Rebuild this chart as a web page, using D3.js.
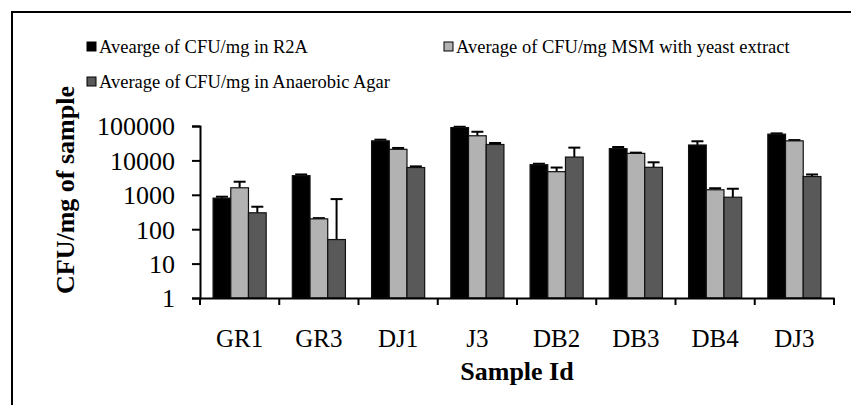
<!DOCTYPE html>
<html>
<head>
<meta charset="utf-8">
<script src="https://cdn.jsdelivr.net/npm/d3@7"></script>
<style>
  body { margin: 0; background: #fff; }
  svg text { font-family: "Liberation Serif", "Times New Roman", serif !important; fill: #000; }
</style>
</head>
<body>
<div id="chart"></div>
<script>
// data
var categories = ["GR1", "GR3", "DJ1", "J3", "DB2", "DB3", "DB4", "DJ3"];
var seriesNames = [
  "Avearge of CFU/mg in R2A",
  "Average of CFU/mg MSM with yeast extract",
  "Average of CFU/mg in Anaerobic Agar"
];
var r2a   = [800, 3600, 37000, 90000, 7500, 22000, 28000, 58000];
var msm   = [1600, 200, 21000, 52000, 4700, 16000, 1400, 37000];
var anaer = [300, 50, 6200, 29000, 12500, 6300, 850, 3400];
var r2aErr   = [80, 300, 3000, 5000, 500, 2500, 8000, 3000];
var msmErr   = [800, 10, 2000, 16000, 1500, 800, 150, 2000];
var anaerErr = [150, 700, 500, 3000, 11000, 2500, 650, 500];
var yTicks = [1, 10, 100, 1000, 10000, 100000];

var colors = ["#000000", "#b2b2b2", "#595959"];

var W = 851, H = 405;
var plotL = 200, plotR = 834, plotT = 126, plotB = 298;

var svg = d3.select("#chart").append("svg")
    .attr("width", W)
    .attr("height", H);

// outer frame (right and bottom edges sit outside the picture)
svg.append("path")
    .attr("d", "M12,420 L12,12 L860,12")
    .attr("fill", "none")
    .attr("stroke", "#000")
    .attr("stroke-width", 2);

var x0 = d3.scaleBand().domain(categories).range([plotL, plotR]);
var bw = x0.bandwidth();
var gw = bw * 0.67;
var x1 = d3.scaleBand().domain([0, 1, 2]).range([(bw - gw) / 2, (bw + gw) / 2]);
var y = d3.scaleLog().domain([1, 100000]).range([plotB, plotT]);

var series = [r2a, msm, anaer];
var errs = [r2aErr, msmErr, anaerErr];

var rows = [];
categories.forEach(function(c, i) {
  series.forEach(function(s, j) {
    rows.push({cat: c, s: j, v: s[i], e: errs[j][i]});
  });
});

function cx(d) { return x0(d.cat) + x1(d.s) + x1.bandwidth() / 2; }

var g = svg.append("g");

// error bars (upper only) drawn behind bars
var eb = g.selectAll("g.err").data(rows).enter().append("g").attr("class", "err");
eb.append("line")
    .attr("x1", cx).attr("x2", cx)
    .attr("y1", function(d) { return y(d.v); })
    .attr("y2", function(d) { return y(d.v + d.e); })
    .attr("stroke", "#000").attr("stroke-width", 2);
eb.append("line")
    .attr("x1", function(d) { return cx(d) - 6; })
    .attr("x2", function(d) { return cx(d) + 6; })
    .attr("y1", function(d) { return y(d.v + d.e); })
    .attr("y2", function(d) { return y(d.v + d.e); })
    .attr("stroke", "#000").attr("stroke-width", 2);

g.selectAll("rect.bar").data(rows).enter().append("rect")
    .attr("class", "bar")
    .attr("x", function(d) { return x0(d.cat) + x1(d.s); })
    .attr("width", x1.bandwidth())
    .attr("y", function(d) { return y(d.v); })
    .attr("height", function(d) { return plotB - y(d.v); })
    .attr("fill", function(d) { return colors[d.s]; })
    .attr("stroke", "#111")
    .attr("stroke-width", 1.2);

// y axis
var yAxis = svg.append("g")
    .attr("transform", "translate(" + plotL + ",0)")
    .call(d3.axisLeft(y).tickValues(yTicks).tickFormat(d3.format("d")).tickSize(8).tickPadding(17));
yAxis.attr("font-family", null);
yAxis.select(".domain").attr("stroke-width", 2);
yAxis.selectAll(".tick line").attr("stroke-width", 2);
yAxis.selectAll("text").style("font-size", "26px").attr("dy", "0.34em");

// x axis
var xAxis = svg.append("g")
    .attr("transform", "translate(0," + plotB + ")")
    .call(d3.axisBottom(x0).tickSize(0).tickPadding(31));
xAxis.attr("font-family", null);
xAxis.select(".domain").attr("stroke-width", 2);
xAxis.selectAll("text").style("font-size", "25px");
xAxis.selectAll("line.sep")
    .data(d3.range(categories.length + 1))
    .enter().append("line")
    .attr("class", "sep")
    .attr("x1", function(i) { return plotL + i * bw; })
    .attr("x2", function(i) { return plotL + i * bw; })
    .attr("y1", 0).attr("y2", 7)
    .attr("stroke", "#000").attr("stroke-width", 2);

// axis titles
svg.append("text")
    .attr("x", (plotL + plotR) / 2)
    .attr("y", 380)
    .attr("text-anchor", "middle")
    .style("font-size", "26px")
    .style("font-weight", "bold")
    .text("Sample Id");

svg.append("text")
    .attr("transform", "translate(74,190) rotate(-90)")
    .attr("text-anchor", "middle")
    .style("font-size", "26px")
    .style("font-weight", "bold")
    .text("CFU/mg of sample");

// legend
var legendPos = [[87, 47], [444, 47], [87, 82]];
var lg = svg.selectAll("g.legend").data(seriesNames).enter().append("g")
    .attr("class", "legend")
    .attr("transform", function(d, i) { return "translate(" + legendPos[i][0] + "," + legendPos[i][1] + ")"; });
lg.append("rect")
    .attr("x", 0).attr("y", -5)
    .attr("width", 9).attr("height", 9)
    .attr("fill", function(d, i) { return colors[i]; })
    .attr("stroke", "#000").attr("stroke-width", 1);
lg.append("text")
    .attr("x", 12)
    .attr("dy", "0.34em")
    .style("font-size", "18.5px")
    .text(function(d) { return d; });
</script>
</body>
</html>
